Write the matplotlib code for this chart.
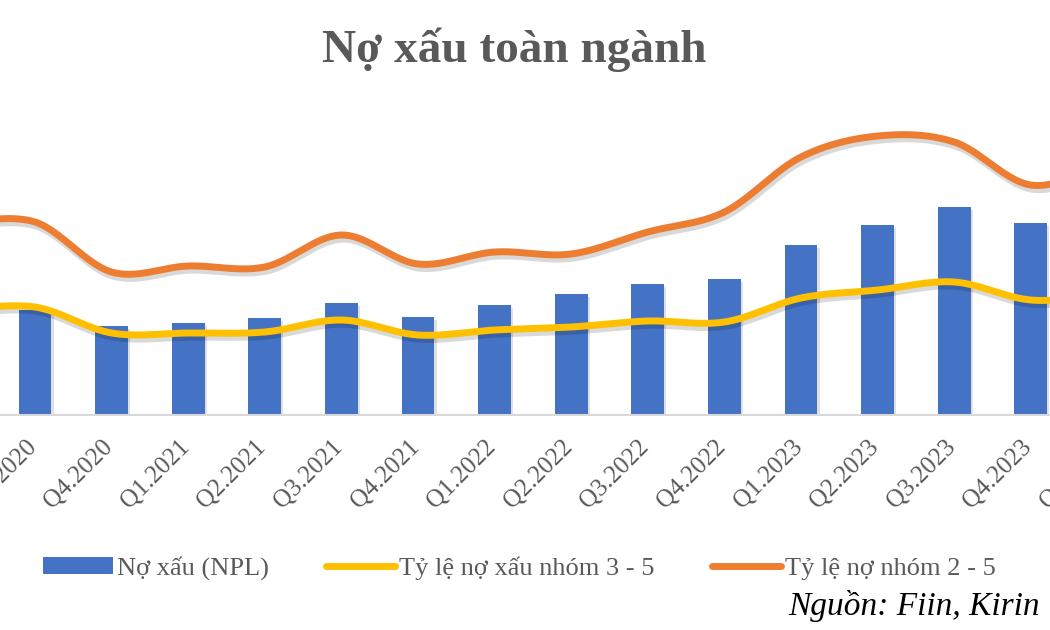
import numpy as np
import matplotlib
matplotlib.use("Agg")
import matplotlib.pyplot as plt
import matplotlib.patheffects as pe
import matplotlib.transforms as mtransforms
from matplotlib.patches import Patch
from matplotlib.lines import Line2D

# quarters (first and last sit outside the cropped view)
quarters = ["Q2.2020", "Q3.2020", "Q4.2020", "Q1.2021", "Q2.2021", "Q3.2021",
            "Q4.2021", "Q1.2022", "Q2.2022", "Q3.2022", "Q4.2022", "Q1.2023",
            "Q2.2023", "Q3.2023", "Q4.2023", "Q1.2024"]
# values (chart units, no axis shown)
npl = [100, 105, 89, 92, 97, 112, 98, 110, 121, 131, 136, 170, 190, 208, 192, 200]
ratio_3_5 = [105, 108, 82, 82, 83, 95, 80, 85, 88, 94, 93, 117, 125, 133, 115, 120]
ratio_2_5 = [192, 193, 143, 149, 148, 180, 151, 163, 161, 183, 203, 258, 279, 273, 230, 250]

BLUE = "#4472C4"
YELLOW = "#FFC000"
ORANGE = "#ED7D31"
GREY = "#595959"
SERIF = "Liberation Serif"


def smooth(x, y, n=30):
    # Excel-like smoothed line (Catmull-Rom through the points)
    x = np.asarray(x, float)
    y = np.asarray(y, float)
    px = np.concatenate([[x[0]], x, [x[-1]]])
    py = np.concatenate([[y[0]], y, [y[-1]]])
    xs, ys = [], []
    t = np.linspace(0, 1, n)
    for i in range(1, len(px) - 2):
        p0 = np.array([px[i - 1], py[i - 1]])
        p1 = np.array([px[i], py[i]])
        p2 = np.array([px[i + 1], py[i + 1]])
        p3 = np.array([px[i + 2], py[i + 2]])
        c1 = p1 + (p2 - p0) / 6
        c2 = p2 - (p3 - p1) / 6
        b = ((1 - t) ** 3)[:, None] * p1 + (3 * (1 - t) ** 2 * t)[:, None] * c1 \
            + (3 * (1 - t) * t ** 2)[:, None] * c2 + (t ** 3)[:, None] * p2
        xs.extend(b[:, 0])
        ys.extend(b[:, 1])
    return np.array(xs), np.array(ys)


fig = plt.figure(figsize=(10.5, 6.3), dpi=100)
# the plot area runs past both figure edges, like the cropped original
left_px, right_px = -80, 1130
ax = fig.add_axes([left_px / 1050, 215 / 630, (right_px - left_px) / 1050, 310 / 630])

x = np.arange(len(quarters))
bars = ax.bar(x, npl, width=0.43, color=BLUE, zorder=2)
for b in bars:
    b.set_path_effects([pe.withSimplePatchShadow(offset=(1.5, -2), shadow_rgbFace="k", alpha=0.12)])

shadow = [pe.SimpleLineShadow(offset=(1, -3), shadow_color="k", alpha=0.15), pe.Normal()]
sx, sy = smooth(x, ratio_3_5)
ax.plot(sx, sy, color=YELLOW, lw=5, solid_capstyle="round", zorder=3, path_effects=shadow)
sx, sy = smooth(x, ratio_2_5)
ax.plot(sx, sy, color=ORANGE, lw=5, solid_capstyle="round", zorder=3, path_effects=shadow)

ax.set_xticks(x)
ax.set_xticklabels(quarters, rotation=45, ha="right", va="top", rotation_mode="anchor",
                   fontsize=18, family=SERIF, color=GREY)
ax.tick_params(axis="x", length=0, pad=13)
shift = mtransforms.ScaledTranslation(-10 / 100, -3 / 100, fig.dpi_scale_trans)
for lbl in ax.get_xticklabels():
    lbl.set_clip_on(False)
    lbl.set_transform(lbl.get_transform() + shift)

ax.set_xlim(1 + (left_px - 35) / 76.6, 1 + (right_px - 35) / 76.6)
ax.set_ylim(0, 310)
ax.set_yticks([])
for s in ["top", "left", "right"]:
    ax.spines[s].set_visible(False)
ax.spines["bottom"].set_color("#D9D9D9")
ax.spines["bottom"].set_linewidth(1.5)

fig.text(514 / 1050, 1 - 50 / 630, "Nợ xấu toàn ngành", ha="center", va="center",
         fontsize=34, fontweight="bold", family=SERIF, color=GREY)

handles = [Patch(facecolor=BLUE),
           Line2D([], [], color=YELLOW, lw=5, solid_capstyle="round"),
           Line2D([], [], color=ORANGE, lw=5, solid_capstyle="round")]
labels = ["Nợ xấu (NPL)", "Tỷ lệ nợ xấu nhóm 3 - 5", "Tỷ lệ nợ nhóm 2 - 5"]
fig.legend(handles, labels, loc="center left", bbox_to_anchor=(43 / 1050, 1 - 568 / 630),
           ncol=3, frameon=False, handlelength=2.65, handleheight=0.6, handletextpad=0.15,
           columnspacing=2.15, borderpad=0, borderaxespad=0,
           prop={"family": SERIF, "size": 19}, labelcolor=GREY)

fig.text(1040 / 1050, 1 - 606 / 630, "Nguồn: Fiin, Kirin", ha="right", va="center",
         fontsize=24, style="italic", family=SERIF, color="black")

fig.savefig("out.png", dpi=100)
